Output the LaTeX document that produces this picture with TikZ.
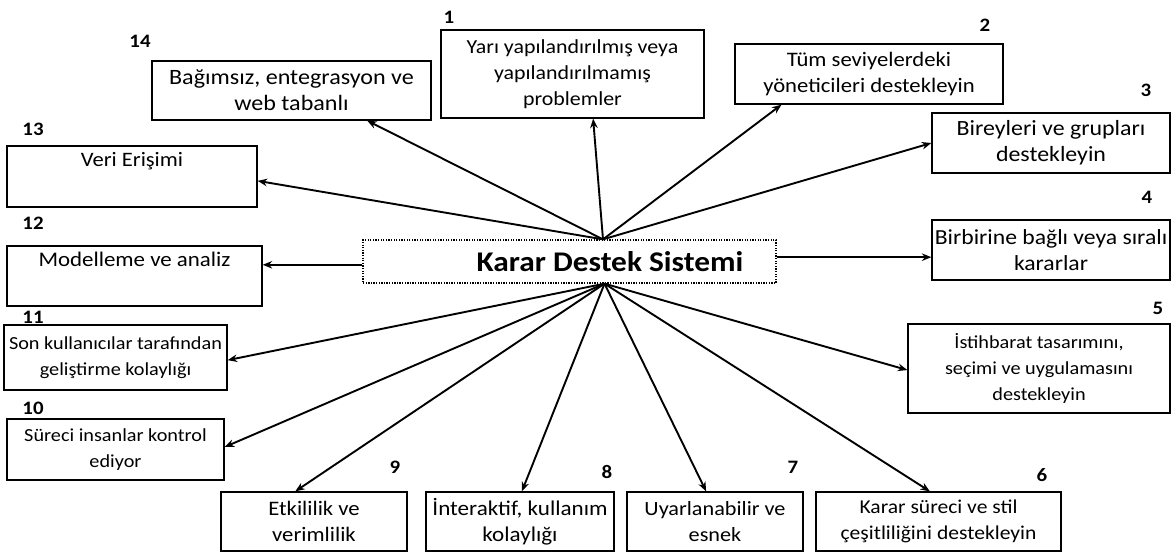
\documentclass[tikz,border=0pt]{standalone}
\usepackage{fontspec}
\setmainfont{Carlito}[FakeStretch=1.1]
\usetikzlibrary{arrows.meta,calc}

\begin{document}
\begin{tikzpicture}[x=1pt,y=-1pt,
  box/.style={draw, line width=1.3pt, align=center, inner sep=0pt,
    font=\fontsize{#1}{26}\selectfont},
  hubbox/.style={draw, line width=1.3pt, dash pattern=on 1.3pt off 1.3pt,
    inner sep=0pt},
  title/.style={font=\fontsize{28.5}{30}\selectfont\bfseries, inner sep=0pt},
  num/.style={font=\fontsize{19}{20}\selectfont\bfseries, inner sep=0pt},
  arr/.style={line width=1.9pt, -{Stealth[length=9.5pt,width=7.5pt]}}]
\useasboundingbox (0,0) rectangle (1175,555);

% central system box
\node[hubbox, minimum width=413pt, minimum height=43pt] (kds) at (569.5,261.5) {};
\node[title] (kdst) at (610,262) {Karar Destek Sistemi};

% characteristic boxes
\node[box=19.9, minimum width=263pt, minimum height=88pt] (b1) at (572.5,74)
  {Yarı yapılandırılmış veya\\yapılandırılmamış\\problemler};
\node[box=20.6, minimum width=268pt, minimum height=60pt] (b2) at (869,74)
  {Tüm seviyelerdeki\\yöneticileri destekleyin};
\node[box=21.7, minimum width=238pt, minimum height=60pt] (b3) at (1051,143)
  {Bireyleri ve grupları\\destekleyin};
\node[box=21.5, minimum width=238pt, minimum height=60pt] (b4) at (1051,250)
  {Birbirine bağlı veya sıralı\\kararlar};
\node[box=18.4, minimum width=262pt, minimum height=89pt] (b5) at (1039,368.5)
  {İstihbarat tasarımını,\\seçimi ve uygulamasını\\destekleyin};
\node[box=19.6, minimum width=245pt, minimum height=59pt] (b6) at (938.5,521.5)
  {Karar süreci ve stil\\çeşitliliğini destekleyin};
\node[box=20.2, minimum width=176pt, minimum height=59pt] (b7) at (715,521.5)
  {Uyarlanabilir ve\\esnek};
\node[box=21.0, minimum width=188pt, minimum height=59pt] (b8) at (520,521.5)
  {İnteraktif, kullanım\\kolaylığı};
\node[box=20.6, minimum width=186pt, minimum height=59pt] (b9) at (314,521.5)
  {Etkililik ve\\verimlilik};
\node[box=18.4, minimum width=217pt, minimum height=61pt] (b10) at (115.5,449.5)
  {Süreci insanlar kontrol\\ediyor};
\node[box=18.4, minimum width=223pt, minimum height=65pt] (b11) at (115.5,357.5)
  {Son kullanıcılar tarafından\\geliştirme kolaylığı};
\node[box=20.8, minimum width=255pt, minimum height=60pt] (b12) at (134.5,276)
  {Modelleme ve analiz\\\strut};
\node[box=20.5, minimum width=250pt, minimum height=61pt] (b13) at (132,176.5)
  {Veri Erişimi\\\strut};
\node[box=21.9, minimum width=279pt, minimum height=59pt] (b14) at (291.5,90.5)
  {Bağımsız, entegrasyon ve\\web tabanlı};

% numbers
\node[num] (n1) at (449,17) {1};
\node[num] (n2) at (985,25) {2};
\node[num] (n3) at (1146,90) {3};
\node[num] (n4) at (1147,197) {4};
\node[num] (n5) at (1158,308) {5};
\node[num] (n6) at (1042,475) {6};
\node[num] (n7) at (793,467) {7};
\node[num] (n8) at (607,472) {8};
\node[num] (n9) at (395,467) {9};
\node[num] (n10) at (33,408) {10};
\node[num] (n11) at (33,317) {11};
\node[num] (n12) at (33,223) {12};
\node[num] (n13) at (33,129) {13};
\node[num] (n14) at (140,41) {14};

% hubs on the central box
\coordinate (hubT) at ($(kds.north)+(33.5,0)$);
\coordinate (hubB) at ($(kds.south)+(35,0)$);
\coordinate (p4) at ($(b4.north west)!0.617!(b4.south west)$);
\coordinate (p12) at ($(b12.north east)!0.317!(b12.south east)$);

% connectors
\draw[arr] (hubT) -- ($(b14.south west)!0.77!(b14.south east)$);
\draw[arr] (hubT) -- ($(b1.south west)!0.578!(b1.south east)$);
\draw[arr] (hubT) -- ($(b2.south west)!0.175!(b2.south east)$);
\draw[arr] (hubT) -- (b3.west);
\draw[arr] (hubT) -- ($(b13.north east)!0.57!(b13.south east)$);
\draw[arr] (kds.east |- p4) -- (p4);
\draw[arr] (kds.west |- p12) -- (p12);
\draw[arr] (hubB) -- ($(b5.north west)!0.517!(b5.south west)$);
\draw[arr] (hubB) -- ($(b6.north west)!0.465!(b6.north east)$);
\draw[arr] (hubB) -- ($(b7.north west)!0.45!(b7.north east)$);
\draw[arr] (hubB) -- ($(b8.north west)!0.51!(b8.north east)$);
\draw[arr] (hubB) -- ($(b9.north west)!0.40!(b9.north east)$);
\draw[arr] (hubB) -- ($(b10.north east)!0.46!(b10.south east)$);
\draw[arr] (hubB) -- ($(b11.north east)!0.54!(b11.south east)$);
\end{tikzpicture}
\end{document}
